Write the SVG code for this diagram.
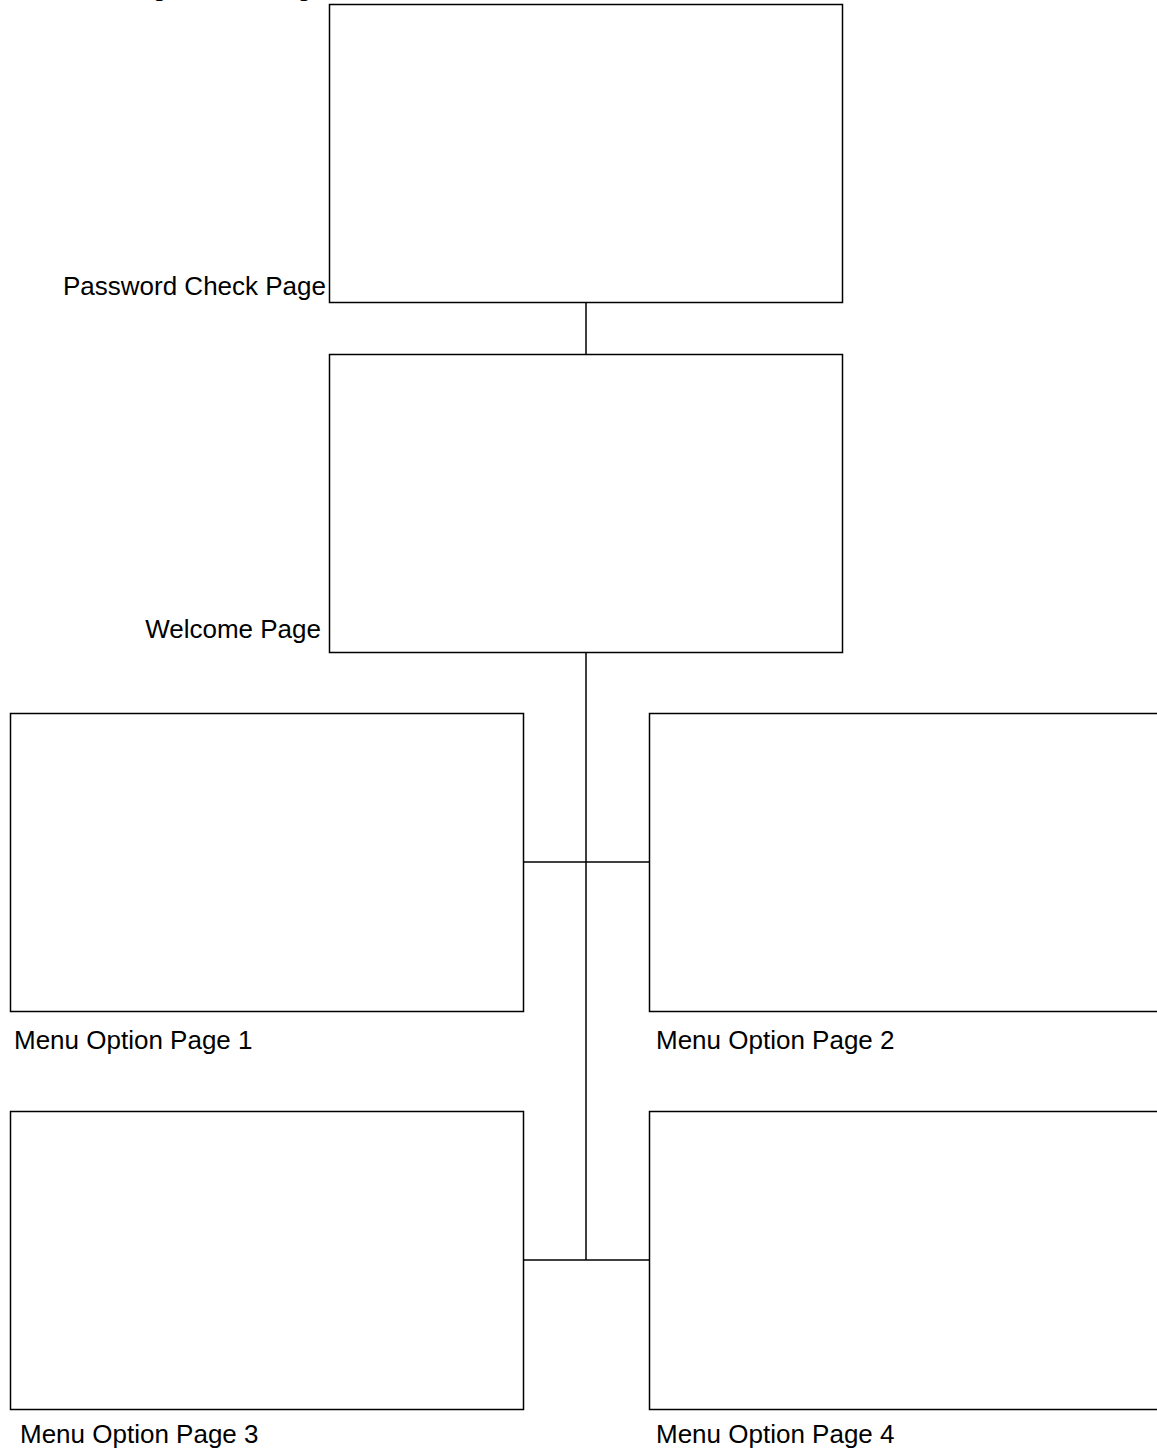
<svg xmlns="http://www.w3.org/2000/svg" width="1157" height="1452" viewBox="0 0 1157 1452">
<style>
.box{fill:#fff;stroke:#000;stroke-width:1.5}
.ln{stroke:#000;stroke-width:1.5;fill:none}
.lbl{font-family:"Liberation Sans",Arial,sans-serif;font-size:26px;fill:#000}
</style>
<rect width="1157" height="1452" fill="#fff"/>
<g id="connectors">
<line class="ln" x1="586" y1="302" x2="586" y2="354"/>
<line class="ln" x1="586" y1="653" x2="586" y2="1260"/>
<line class="ln" x1="523" y1="862" x2="649" y2="862"/>
<line class="ln" x1="523" y1="1260" x2="649" y2="1260"/>
</g>
<g id="registration-page">
<text class="lbl" x="326" y="-4" text-anchor="end">Registration Page</text>
</g>
<g id="password-check-page">
<rect class="box" x="329.5" y="4.5" width="513" height="298"/>
<text class="lbl" x="326" y="295" text-anchor="end">Password Check Page</text>
</g>
<g id="welcome-page">
<rect class="box" x="329.5" y="354.5" width="513" height="298"/>
<text class="lbl" x="321" y="638" text-anchor="end">Welcome Page</text>
</g>
<g id="menu-option-page-1">
<rect class="box" x="10.5" y="713.5" width="513" height="298"/>
<text class="lbl" x="14" y="1049">Menu Option Page 1</text>
</g>
<g id="menu-option-page-2">
<rect class="box" x="649.5" y="713.5" width="514" height="298"/>
<text class="lbl" x="656" y="1049">Menu Option Page 2</text>
</g>
<g id="menu-option-page-3">
<rect class="box" x="10.5" y="1111.5" width="513" height="298"/>
<text class="lbl" x="20" y="1443">Menu Option Page 3</text>
</g>
<g id="menu-option-page-4">
<rect class="box" x="649.5" y="1111.5" width="514" height="298"/>
<text class="lbl" x="656" y="1443">Menu Option Page 4</text>
</g>
</svg>
